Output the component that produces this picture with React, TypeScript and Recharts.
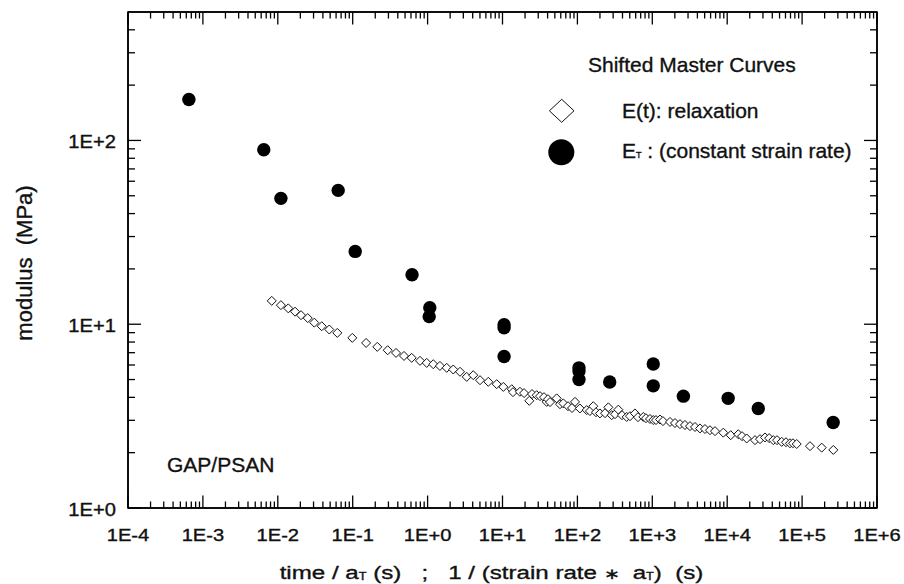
import React from 'react';
import { ScatterChart, Scatter, XAxis, YAxis, Customized, Label } from 'recharts';

const FONT = '"Liberation Sans", Arial, Helvetica, sans-serif';
const INK = '#111111';

// E(t): relaxation master curve (open diamonds)
const relaxTime = [
  0.0083, 0.011, 0.0138, 0.017, 0.0204, 0.0251, 0.0307, 0.0386, 0.0487, 0.0623,
  0.0988, 0.151, 0.213, 0.293, 0.379, 0.484, 0.613, 0.792, 0.973, 1.19,
  1.46, 1.8, 2.2, 2.71, 3.33, 4.07, 5.01, 6.46, 8.37, 10.25,
  13.3, 13.8, 17.1, 19.4, 22.8, 24.8, 28.6, 31.7, 35.8, 38.9,
  40.5, 43.1, 52.9, 58.6, 64.8, 74.9, 84.7, 92.9, 108, 133, 147,
  163, 177, 200, 234, 259, 287, 318, 352, 394, 455,
  504, 587, 644, 759, 824, 931, 1031, 1120, 1267, 1389,
  1723, 2009, 2344, 2730, 3187, 3715, 4334, 5050, 5893, 6870,
  8870, 11140, 14060, 15780, 18200, 23500, 27420, 31970, 36330, 41260,
  46280, 53420, 60960, 68950, 75620, 84700, 127500, 182700, 261000,
];
const relaxModulus = [
  13.4, 12.7, 12.2, 11.7, 11.2, 10.8, 10.2, 9.75, 9.36, 8.97,
  8.43, 7.91, 7.53, 7.22, 6.98, 6.72, 6.56, 6.32, 6.16, 6.06,
  5.93, 5.79, 5.67, 5.51, 5.17, 5.28, 4.96, 4.86, 4.72, 4.56,
  4.43, 4.27, 4.29, 4.22, 3.83, 4.17, 4.11, 4.06, 4.01, 3.78,
  3.91, 3.77, 3.95, 3.67, 3.71, 3.58, 3.5, 3.78, 3.48, 3.41, 3.37,
  3.58, 3.32, 3.27, 3.28, 3.53, 3.2, 3.24, 3.43, 3.2, 3.13,
  3.16, 3.27, 3.12, 3.13, 3.08, 3.05, 3.01, 3.01, 3.03, 2.97,
  2.94, 2.9, 2.86, 2.83, 2.79, 2.76, 2.71, 2.69, 2.65, 2.62,
  2.57, 2.49, 2.52, 2.46, 2.39, 2.34, 2.37, 2.42, 2.4, 2.34,
  2.34, 2.29, 2.28, 2.25, 2.25, 2.23, 2.17, 2.13, 2.07,
];

// E_T: constant strain rate (filled circles)
const rateTime = [
  0.00065, 0.0065, 0.011, 0.064, 0.108, 0.62, 1.07, 1.05, 10.5, 10.5,
  10.5, 105, 105, 105, 270, 1030, 1030, 2600, 10300, 26000, 260000,
];
const rateModulus = [
  167, 89, 48.4, 53.5, 24.9, 18.6, 12.3, 11.0, 9.93, 9.57,
  6.67, 5.79, 5.56, 5.0, 4.85, 6.07, 4.62, 4.06, 3.95, 3.48, 2.92,
];

const xMajorTicks = [1e-4, 1e-3, 1e-2, 1e-1, 1, 10, 100, 1000, 1e4, 1e5, 1e6];
const xTickLabels = ['1E-4', '1E-3', '1E-2', '1E-1', '1E+0', '1E+1', '1E+2', '1E+3', '1E+4', '1E+5', '1E+6'];
const yMajorTicks = [1, 10, 100];
const yTickLabels = ['1E+0', '1E+1', '1E+2'];
const minorSteps = [2, 3, 4, 5, 6, 7, 8, 9];
const X_DOMAIN: [number, number] = [1e-4, 1e6];
const Y_DOMAIN: [number, number] = [1, 500];

const xAllTicks = [
  ...xMajorTicks,
  ...xMajorTicks.slice(0, -1).flatMap((d) => minorSteps.map((m) => d * m)),
].sort((a, b) => a - b);
const yAllTicks = [
  ...yMajorTicks,
  ...yMajorTicks.flatMap((d) => minorSteps.map((m) => d * m)).filter((v) => v < Y_DOMAIN[1]),
].sort((a, b) => a - b);

const relaxData = relaxTime.map((x, i) => ({ x, y: relaxModulus[i] }));
const rateData = rateTime.map((x, i) => ({ x, y: rateModulus[i] }));

// layout
const CHART_W = 904;
const CHART_H = 584;
const TOP_AXIS_H = 12;
const BOTTOM_AXIS_H = 76;
const LEFT_AXIS_W = 128;
const RIGHT_AXIS_W = 27;

const majorIndex = (v: number, majors: number[]) => majors.findIndex((t) => Math.abs(v / t - 1) < 1e-6);

const textStroke = { stroke: INK, strokeWidth: 0.35 };
const TICK = { stroke: '#000000', strokeWidth: 1.3 };

const BottomTick = (p: any) => {
  const { x, y, payload } = p;
  const i = majorIndex(payload.value, xMajorTicks);
  const len = i >= 0 ? 12.5 : 6.5;
  return (
    <g>
      <line x1={x} y1={y} x2={x} y2={y - len} {...TICK} />
      {i >= 0 ? (
        <text
          transform={`translate(${x},${y + 33}) scale(1.22,1)`}
          textAnchor="middle"
          fontFamily={FONT}
          fontSize={16.5}
          fill={INK}
          {...textStroke}
        >
          {xTickLabels[i]}
        </text>
      ) : null}
    </g>
  );
};

const TopTick = (p: any) => {
  const { x, y, payload } = p;
  const len = majorIndex(payload.value, xMajorTicks) >= 0 ? 12.5 : 6.5;
  return (
    <g>
      <line x1={x} y1={y} x2={x} y2={y + len} {...TICK} />
    </g>
  );
};

const LeftTick = (p: any) => {
  const { x, y, payload } = p;
  const i = majorIndex(payload.value, yMajorTicks);
  const len = i >= 0 ? 13 : 7;
  return (
    <g>
      <line x1={x} y1={y} x2={x + len} y2={y} {...TICK} />
      {i >= 0 ? (
        <text
          transform={`translate(${x - 12},${y + 8}) scale(1.12,1)`}
          textAnchor="end"
          fontFamily={FONT}
          fontSize={18}
          fill={INK}
          {...textStroke}
        >
          {yTickLabels[i]}
        </text>
      ) : null}
    </g>
  );
};

const RightTick = (p: any) => {
  const { x, y, payload } = p;
  const len = majorIndex(payload.value, yMajorTicks) >= 0 ? 13 : 7;
  return (
    <g>
      <line x1={x} y1={y} x2={x - len} y2={y} {...TICK} />
    </g>
  );
};

const DiamondShape = (p: any) => {
  const { cx, cy } = p;
  const s = 4.5;
  return (
    <path
      d={`M${cx},${cy - s}L${cx + s},${cy}L${cx},${cy + s}L${cx - s},${cy}Z`}
      fill="#fff"
      stroke={INK}
      strokeWidth={1}
    />
  );
};

const DotShape = (p: any) => <circle cx={p.cx} cy={p.cy} r={6.7} fill="#000" />;

const XTitle = (p: any) => {
  const vb = p.viewBox || { x: LEFT_AXIS_W, y: CHART_H - BOTTOM_AXIS_H, width: 749, height: BOTTOM_AXIS_H };
  const cx = vb.x + vb.width / 2 - 11;
  const y = vb.y + 71;
  return (
    <text
      transform={`translate(${cx},${y}) scale(1.27,1)`}
      textAnchor="middle"
      fontFamily={FONT}
      fontSize={19}
      fill={INK}
      {...textStroke}
    >
      <tspan>time / a</tspan>
      <tspan fontSize={10} dy={1}>T</tspan>
      <tspan dy={-1}>{'\u00A0(s)\u00A0\u00A0\u00A0;\u00A0\u00A0\u00A01 / (strain rate\u00A0'}</tspan>
      <tspan fontSize={15}>{'\u2217'}</tspan>
      <tspan>{'\u00A0\u00A0a'}</tspan>
      <tspan fontSize={10} dy={1}>T</tspan>
      <tspan dy={-1}>{')\u00A0\u00A0(s)'}</tspan>
    </text>
  );
};

const YTitle = (p: any) => {
  const vb = p.viewBox || { x: 0, y: TOP_AXIS_H, width: LEFT_AXIS_W, height: 496 };
  const x = vb.x + 32;
  const y = vb.y + vb.height / 2 + 3;
  return (
    <text
      transform={`translate(${x},${y}) rotate(-90)`}
      textAnchor="middle"
      fontFamily={FONT}
      fontSize={22}
      fill={INK}
      {...textStroke}
    >
      {'modulus\u00A0\u00A0(MPa)'}
    </text>
  );
};

// plot frame (box around the plotting area, same geometry as the axes layout)
const Frame = () => (
  <rect
    x={LEFT_AXIS_W}
    y={TOP_AXIS_H}
    width={CHART_W - LEFT_AXIS_W - RIGHT_AXIS_W}
    height={CHART_H - TOP_AXIS_H - BOTTOM_AXIS_H}
    fill="none"
    stroke="#000000"
    strokeWidth={1.5}
  />
);

const LegendBlock = () => {
  const t = { fontFamily: FONT, fontSize: 21, fill: INK, ...textStroke };
  return (
    <g>
      <text x={588} y={72} {...t}>Shifted Master Curves</text>
      <path d="M561.7,99.3L574,110.8L561.7,122.3L549.4,110.8Z" fill="#fff" stroke={INK} strokeWidth={1} />
      <text x={622} y={118} {...t}>E(t): relaxation</text>
      <circle cx={561.3} cy={152.2} r={13} fill="#000" />
      <text x={622} y={158} {...t}>
        <tspan>E</tspan>
        <tspan fontSize={9}>T</tspan>
        <tspan>{'\u00A0: (constant strain rate)'}</tspan>
      </text>
      <text x={167} y={472} {...t}>GAP/PSAN</text>
    </g>
  );
};

const axisLineStyle = { stroke: '#000000', strokeWidth: 1.5 };

export default function App() {
  return (
    <div style={{ width: CHART_W, height: CHART_H, background: '#fff' }}>
      <style>{'html,body{margin:0;padding:0;overflow:hidden;background:#fff}'}</style>
      <ScatterChart width={CHART_W} height={CHART_H} margin={{ top: 0, right: 0, bottom: 0, left: 0 }}>
        <XAxis
          xAxisId="b"
          dataKey="x"
          type="number"
          scale="log"
          domain={X_DOMAIN}
          allowDataOverflow
          ticks={xAllTicks}
          interval={0}
          tickSize={0}
          tickMargin={0}
          tickLine={false}
          tick={BottomTick}
          axisLine={axisLineStyle}
          height={BOTTOM_AXIS_H}
          orientation="bottom"
        >
          <Label content={XTitle} />
        </XAxis>
        <XAxis
          xAxisId="t"
          dataKey="x"
          type="number"
          scale="log"
          domain={X_DOMAIN}
          allowDataOverflow
          ticks={xAllTicks}
          interval={0}
          tickSize={0}
          tickMargin={0}
          tickLine={false}
          tick={TopTick}
          axisLine={axisLineStyle}
          height={TOP_AXIS_H}
          orientation="top"
        />
        <YAxis
          yAxisId="l"
          dataKey="y"
          type="number"
          scale="log"
          domain={Y_DOMAIN}
          allowDataOverflow
          ticks={yAllTicks}
          interval={0}
          tickSize={0}
          tickMargin={0}
          tickLine={false}
          tick={LeftTick}
          axisLine={axisLineStyle}
          width={LEFT_AXIS_W}
          orientation="left"
        >
          <Label content={YTitle} />
        </YAxis>
        <YAxis
          yAxisId="r"
          dataKey="y"
          type="number"
          scale="log"
          domain={Y_DOMAIN}
          allowDataOverflow
          ticks={yAllTicks}
          interval={0}
          tickSize={0}
          tickMargin={0}
          tickLine={false}
          tick={RightTick}
          axisLine={axisLineStyle}
          width={RIGHT_AXIS_W}
          orientation="right"
        />
        <Scatter
          name="E(t): relaxation"
          data={relaxData}
          xAxisId="b"
          yAxisId="l"
          shape={DiamondShape}
          isAnimationActive={false}
        />
        <Scatter
          name="ET: (constant strain rate)"
          data={rateData}
          xAxisId="b"
          yAxisId="l"
          shape={DotShape}
          isAnimationActive={false}
        />
        <Customized component={Frame} />
        <Customized component={LegendBlock} />
      </ScatterChart>
    </div>
  );
}
